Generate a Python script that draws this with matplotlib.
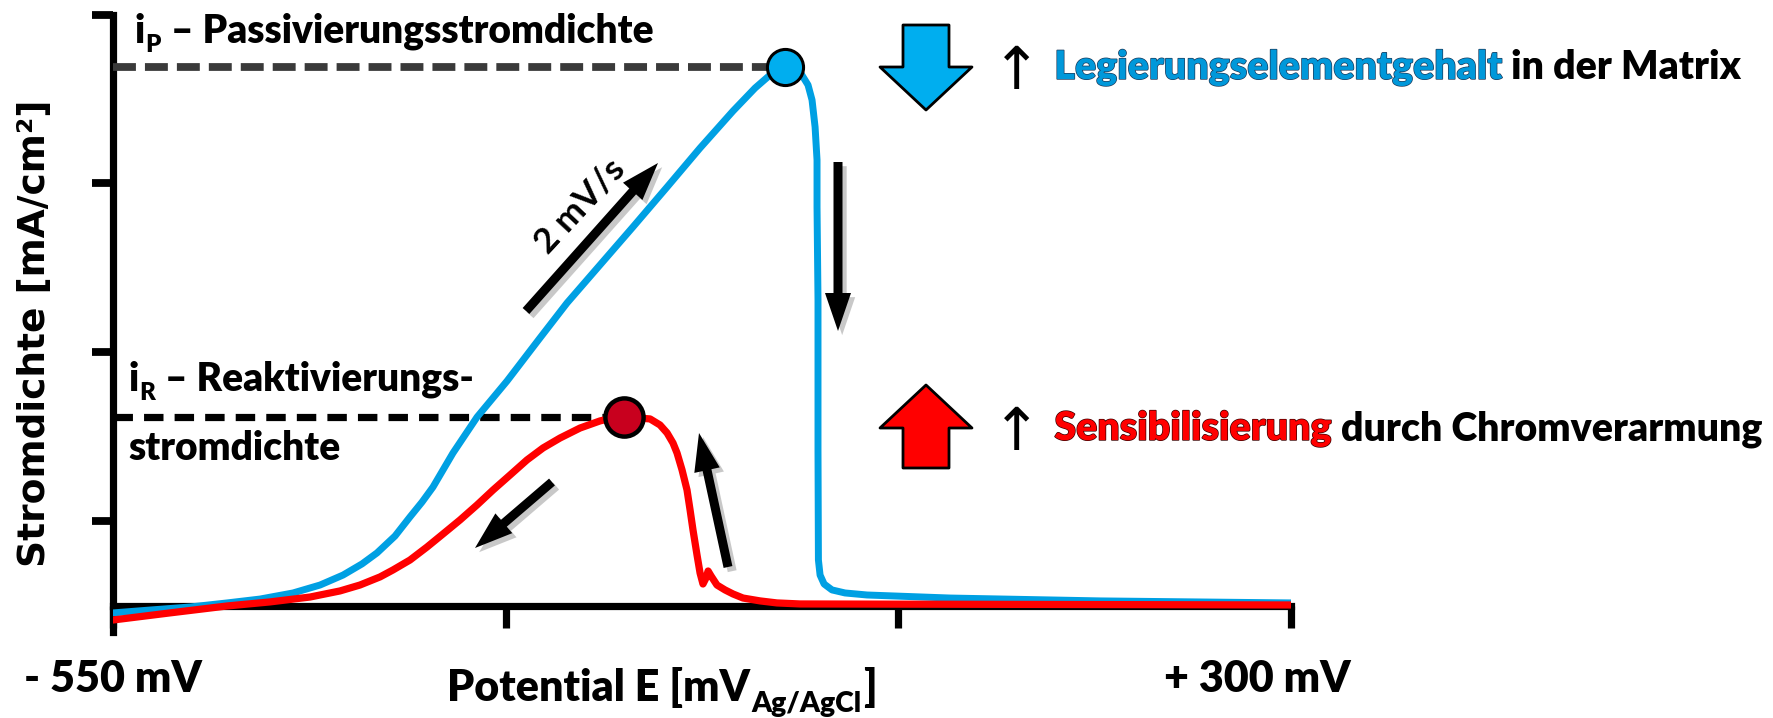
import matplotlib
matplotlib.use("Agg")
import matplotlib.pyplot as plt
import matplotlib.patheffects as pe
from matplotlib.patches import FancyArrowPatch, ArrowStyle
from matplotlib.transforms import IdentityTransform

W, H, DPI = 1774, 718, 100
SANS = ["Lato", "DejaVu Sans"]
WEIGHT = "heavy"
plt.rcParams["lines.scale_dashes"] = False

# ---- data -----------------------------------------------------------------
# forward (activation) sweep, potential in mV vs Ag/AgCl, current density (a.u.)
potential_fwd = [-550.0, -523.3, -494.4, -467.7, -443.9, -420.1, -400.6, -384.0,
                 -370.3, -359.5, -346.5, -335.7, -327.0, -319.1, -304.7, -287.3,
                 -265.7, -241.9, -222.4, -198.6, -174.8, -150.2, -126.4, -102.6,
                 -86.7, -75.9, -65.1, -54.3, -48.5, -45.6, -43.4, -42.0, -42.0,
                 -41.3, -41.3, -41.0, -39.8, -36.9, -31.2, -21.8, -5.9, 54.0,
                 162.2, 300.0]
current_fwd = [-0.041, -0.024, -0.006, 0.018, 0.041, 0.077, 0.124, 0.183,
               0.249, 0.314, 0.414, 0.527, 0.615, 0.704, 0.905, 1.118,
               1.331, 1.586, 1.793, 2.018, 2.243, 2.479, 2.710, 2.929,
               3.065, 3.142, 3.189, 3.160, 3.083, 2.994, 2.834, 2.639, 2.361,
               1.811, 0.923, 0.272, 0.183, 0.130, 0.095, 0.077, 0.065, 0.047,
               0.030, 0.018]

# reverse (reactivation) sweep
potential_rev = [-550.0, -508.9, -467.7, -436.7, -407.8, -386.2, -371.8, -357.3,
                 -348.0, -335.7, -323.4, -311.9, -299.6, -287.3, -275.8, -263.5,
                 -251.3, -239.7, -227.4, -213.0, -198.6, -189.9, -181.3, -162.5,
                 -155.3, -150.2, -145.9, -143.0, -139.4, -135.8, -133.6, -131.5,
                 -128.6, -126.4, -124.3, -122.1, -120.6, -118.5, -114.2, -108.4,
                 -102.6, -95.4, -83.1, -70.9, -54.3, 300.0]
current_rev = [-0.083, -0.041, 0.000, 0.024, 0.053, 0.089, 0.124, 0.172,
               0.213, 0.272, 0.349, 0.426, 0.509, 0.598, 0.686, 0.775,
               0.864, 0.935, 0.994, 1.053, 1.095, 1.112, 1.118, 1.107,
               1.071, 1.024, 0.964, 0.905, 0.805, 0.686, 0.568, 0.450,
               0.302, 0.195, 0.130, 0.166, 0.207, 0.178, 0.124, 0.095,
               0.071, 0.047, 0.030, 0.018, 0.012, 0.006]

# characteristic peaks: passivation (i_P) and reactivation (i_R) current density
peak_P = (-65.1, 3.189)
peak_R = (-181.3, 1.118)

E_MIN, E_MAX = -550, 300
x_ticks = [-550, -550 + 850 / 3, -550 + 2 * 850 / 3, 300]
y_ticks = [0.5, 1.5, 2.5, 3.5]
x_tick_labels = ["- 550 mV", "+ 300 mV"]

BLUE_LINE = "#00A0E3"
BLUE_FILL = "#00AEEF"
BLUE_TEXT = "#0098DA"
RED = "#FF0000"
RED_FILL = "#C8001E"

# ---- figure ---------------------------------------------------------------
fig = plt.figure(figsize=(W / DPI, H / DPI), dpi=DPI)
ax = fig.add_axes([113 / W, (H - 632) / H, (1291 - 113) / W, (632 - 14.5) / H])
ax.set_xlim(E_MIN, E_MAX)
ax.set_ylim(-0.154, 3.5)

for side in ("top", "right"):
    ax.spines[side].set_visible(False)
ax.spines["left"].set_linewidth(5.2)
ax.spines["bottom"].set_linewidth(5.2)
ax.spines["bottom"].set_position(("data", 0))
ax.spines["left"].set_zorder(1)
ax.spines["bottom"].set_zorder(1)
ax.set_xticks(x_ticks)
ax.set_yticks(y_ticks)
ax.set_xticklabels([])
ax.set_yticklabels([])
ax.tick_params(axis="x", direction="out", length=16, width=5.2, color="black")
ax.tick_params(axis="y", direction="out", length=15, width=5.6, color="black")

# reference lines to the two peaks
ax.plot([E_MIN, peak_P[0]], [peak_P[1], peak_P[1]], color="#3a3a3a", lw=5.6,
        dashes=(16.5, 6.5), solid_capstyle="butt", zorder=2)
ax.plot([E_MIN, peak_R[0]], [peak_R[1], peak_R[1]], color="black", lw=5.2,
        dashes=(14, 8), solid_capstyle="butt", zorder=2)

# curves
ax.plot(potential_fwd, current_fwd, color=BLUE_LINE, lw=5.0,
        solid_joinstyle="round", solid_capstyle="round", zorder=3)
ax.plot(potential_rev, current_rev, color=RED, lw=5.2,
        solid_joinstyle="round", solid_capstyle="round", zorder=4)

# peak markers
ax.plot(*peak_P, marker="o", ms=26, mfc=BLUE_FILL, mec="black", mew=2.2, zorder=6)
ax.plot(*peak_R, marker="o", ms=27.5, mfc=RED_FILL, mec="black", mew=3.2, zorder=6)

# tick labels at the ends of the potential window
ax.annotate(x_tick_labels[0], xy=(x_ticks[0], 0), xycoords="data",
            xytext=(0, -62), textcoords="offset points", ha="center",
            va="baseline", fontsize=31, fontweight=WEIGHT, family=SANS)
ax.annotate(x_tick_labels[1], xy=(x_ticks[-1], 0), xycoords="data",
            xytext=(-24, -62), textcoords="offset points", ha="center",
            va="baseline", fontsize=31, fontweight=WEIGHT, family=SANS)

# y-axis title
fig.text(35, H - 333, "Stromdichte [mA/cm²]", transform=IdentityTransform(),
         rotation=90, ha="center", va="center", fontsize=27,
         fontweight="bold", family=["DejaVu Sans"])

renderer = fig.canvas.get_renderer()
outline_blue = [pe.Stroke(linewidth=1.0, foreground="#1d3a5a"), pe.Normal()]
outline_red = [pe.Stroke(linewidth=1.0, foreground="#3a0000"), pe.Normal()]


def text_runs(x, y, runs, size):
    """Draw consecutive text pieces starting at pixel (x, y-from-top)."""
    for run in runs:
        s = run["s"]
        fs = size * run.get("scale", 1.0)
        t = fig.text(x, H - y - run.get("dy", 0), s, transform=IdentityTransform(),
                     fontsize=fs, fontweight=run.get("weight", WEIGHT),
                     family=run.get("family", SANS), color=run.get("color", "black"),
                     va="baseline", ha="left")
        if "effects" in run:
            t.set_path_effects(run["effects"])
        bb = t.get_window_extent(renderer)
        x = bb.x1 + run.get("gap", 0)


text_runs(134, 43, [dict(s="i", gap=1), dict(s="P", scale=0.62, dy=9, gap=10),
                    dict(s="– Passivierungsstromdichte")], 28)
text_runs(128, 391, [dict(s="i", gap=1), dict(s="R", scale=0.62, dy=9, gap=10),
                     dict(s="– Reaktivierungs-")], 28)
text_runs(128, 460, [dict(s="stromdichte")], 28)

text_runs(447, 701, [dict(s="Potential E [mV", gap=1),
                     dict(s="Ag/AgCl", scale=0.66, dy=11, gap=2),
                     dict(s="]")], 31)

text_runs(992, 89, [dict(s="↑", family=["DejaVu Sans"], weight="normal", gap=13,
                         scale=1.5),
                    dict(s="Legierungselementgehalt", color=BLUE_TEXT,
                         effects=outline_blue, dy=-10, gap=9),
                    dict(s="in der Matrix", dy=-10)], 28.3)
text_runs(992, 450, [dict(s="↑", family=["DejaVu Sans"], weight="normal", gap=13,
                          scale=1.5),
                     dict(s="Sensibilisierung", color=RED,
                          effects=outline_red, dy=-10, gap=9),
                     dict(s="durch Chromverarmung", dy=-10)], 28.3)

# scan-rate label along the forward branch
fig.text(580, H - 206, "2 mV/s", transform=IdentityTransform(), rotation=47,
         rotation_mode="anchor", ha="center", va="center", fontsize=25.5,
         fontweight="bold", family=SANS)

# sweep-direction arrows (pixel positions), with a soft drop shadow
shadow = [pe.SimplePatchShadow(offset=(3, -3), shadow_rgbFace="#777777", alpha=0.4),
          pe.Normal()]
px_unit = 72 / DPI
small = ArrowStyle("Simple", head_length=38, head_width=26, tail_width=9)
for (x0, y0), (x1, y1) in [((526, 311), (658, 163)),
                           ((838, 162), (838, 331)),
                           ((552, 482), (475, 548)),
                           ((728, 567), (699, 433))]:
    a = FancyArrowPatch((x0, H - y0), (x1, H - y1), transform=IdentityTransform(),
                        arrowstyle=small, mutation_scale=px_unit, shrinkA=0,
                        shrinkB=0, fc="black", ec="black", lw=0, zorder=7)
    a.set_path_effects(shadow)
    fig.add_artist(a)

# block arrows next to the explanations
big = ArrowStyle("Simple", head_length=43, head_width=92, tail_width=46)
for (y0, y1), col in [((25, 110), BLUE_FILL), ((468, 385), RED)]:
    a = FancyArrowPatch((926, H - y0), (926, H - y1), transform=IdentityTransform(),
                        arrowstyle=big, mutation_scale=px_unit, shrinkA=0,
                        shrinkB=0, fc=col, ec="black", lw=2.0, zorder=7)
    fig.add_artist(a)

fig.savefig("out.png", dpi=DPI)
